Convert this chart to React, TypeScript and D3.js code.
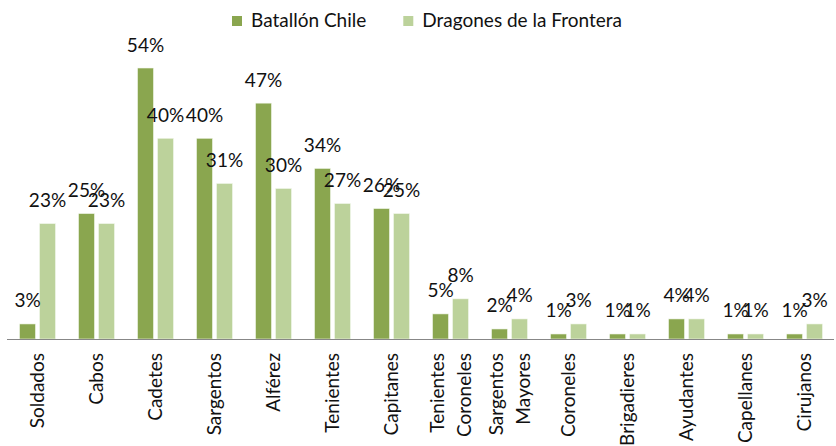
import * as d3 from "d3"
import { useEffect, useRef } from "react"

const categories = [
  ["Soldados"],
  ["Cabos"],
  ["Cadetes"],
  ["Sargentos"],
  ["Alférez"],
  ["Tenientes"],
  ["Capitanes"],
  ["Tenientes", "Coroneles"],
  ["Sargentos", "Mayores"],
  ["Coroneles"],
  ["Brigadieres"],
  ["Ayudantes"],
  ["Capellanes"],
  ["Cirujanos"],
]
const seriesNames = ["Batallón Chile", "Dragones de la Frontera"]
const batallonChile = [3, 25, 54, 40, 47, 34, 26, 5, 2, 1, 1, 4, 1, 1]
const dragones = [23, 23, 40, 31, 30, 27, 25, 8, 4, 3, 1, 4, 1, 3]
const colors = ["#8aa64f", "#bcd29b"]

const FONT = "Lato, 'Open Sans', sans-serif"
const FS = 19

const App = () => {
  const svgRef = useRef<SVGSVGElement | null>(null)

  useEffect(() => {
    if (!svgRef.current) return
    const root = d3.select(svgRef.current)
    root.selectAll("*").remove()

    const keys = categories.map(c => c.join(" "))
    const baseY = 339
    const series = [batallonChile, dragones]

    // Scales
    const x0 = d3.scaleBand<string>().domain(keys).range([8, 834])
    const x1 = d3
      .scaleBand<string>()
      .domain(seriesNames)
      .range([11.5, x0.bandwidth() - 11.5])
      .paddingInner(0.2)
    const y = d3.scaleLinear().domain([0, 54]).range([baseY, 68])

    const svg = root.append("g").style("font-family", FONT)

    // Bars
    series.forEach((vals, si) => {
      svg
        .append("g")
        .selectAll("rect")
        .data(vals)
        .enter()
        .append("rect")
        .attr("x", (_, i) => x0(keys[i])! + x1(seriesNames[si])!)
        .attr("y", d => y(d))
        .attr("width", x1.bandwidth())
        .attr("height", d => baseY - y(d))
        .attr("fill", colors[si])
        .attr("stroke", "#f4f8ee")
        .attr("stroke-width", 0.6)
    })

    // Axis line
    svg
      .append("line")
      .attr("x1", 7)
      .attr("x2", 834)
      .attr("y1", baseY + 0.5)
      .attr("y2", baseY + 0.5)
      .attr("stroke", "#878787")
      .attr("stroke-width", 1)

    // Data labels
    series.forEach((vals, si) => {
      svg
        .append("g")
        .selectAll("text")
        .data(vals)
        .enter()
        .append("text")
        .attr("x", (_, i) => x0(keys[i])! + x1(seriesNames[si])! + x1.bandwidth() / 2)
        .attr("y", d => y(d) - 16.5)
        .attr("text-anchor", "middle")
        .style("font-size", `${FS}px`)
        .attr("fill", "#111")
        .text(d => `${d}%`)
    })

    // Category labels (rotated)
    categories.forEach((lines, i) => {
      const cx = x0(keys[i])! + x0.bandwidth() / 2
      lines.forEach((ln, li) => {
        const off = (li - (lines.length - 1) / 2) * 27
        svg
          .append("text")
          .attr("transform", `translate(${cx + off},${baseY + 14}) rotate(-90)`)
          .attr("text-anchor", "end")
          .attr("dy", "0.35em")
          .style("font-size", `${FS}px`)
          .attr("fill", "#111")
          .text(ln)
      })
    })

    // Legend
    let lx = 232
    seriesNames.forEach((name, si) => {
      svg
        .append("rect")
        .attr("x", lx)
        .attr("y", 16)
        .attr("width", 10)
        .attr("height", 10)
        .attr("fill", colors[si])
      const t = svg
        .append("text")
        .attr("x", lx + 19)
        .attr("y", 27)
        .style("font-size", `${FS}px`)
        .attr("fill", "#111")
        .text(name)
      const w = (t.node() as SVGTextElement).getComputedTextLength()
      lx += 19 + w + 37
    })
  }, [])

  return (
    <svg
      ref={svgRef}
      width={836}
      height={446}
      style={{ position: "absolute", left: 0, top: 0, background: "#fff" }}
    />
  )
}

export default App
